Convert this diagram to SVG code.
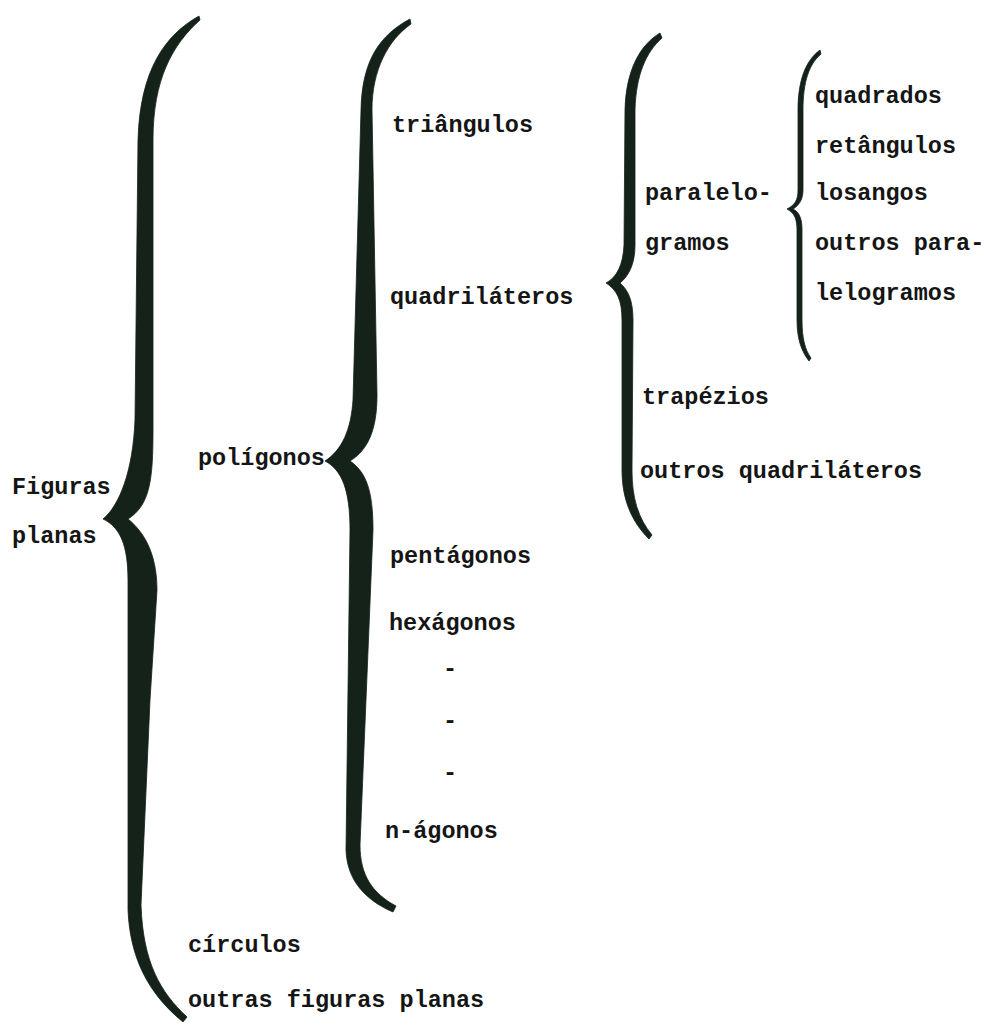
<svg xmlns="http://www.w3.org/2000/svg" width="984" height="1025" viewBox="0 0 984 1025">
<style>
text{font-family:"Liberation Mono","Courier New",monospace;font-weight:bold;font-size:23.5px;fill:#151515}
.brace{fill:#14221a;stroke:#14221a;stroke-width:0.8;stroke-linejoin:round}
</style>
<rect width="984" height="1025" fill="#ffffff"/>
<g id="connectors">
<path class="brace" d="M199,16 C165,35 140,70 138,140 L135,420 C133,470 120,505 103,519 C120,527 128,545 128,580 L128,910 C130,960 150,995 183,1022 L187,1017 C160,992 143,962 141,905 L150,700 L157,590 C157,560 148,535 128,519 C150,505 153,480 153,430 L153,140 C153,80 172,45 200,20 Z"/>
<path class="brace" d="M410,19 C380,35 362,60 361,110 L353,400 C351,430 342,450 325,461 C342,470 350,490 350,530 L346,850 C347,880 365,900 393,912 L396,906 C372,893 360,875 360,845 L373,530 C373,490 366,472 350,461 C368,450 377,430 377,395 L372,110 C372,70 388,40 411,24 Z"/>
<path class="brace" d="M660,33 C640,45 626,70 625,110 L624,245 C623,265 617,277 606,283 C617,290 622,300 622,320 L622,470 C622,500 632,522 649,539 L652,535 C638,518 632,498 632,470 L633,320 C633,300 628,290 620,283 C630,275 635,262 635,245 L635,110 C636,75 646,52 662,38 Z"/>
<path class="brace" d="M820,50 C806,60 798,80 798,110 L798,190 C798,200 795,205 787,209 C795,213 797,220 797,230 L797,320 C797,340 802,352 809,361 L811,358 C805,350 802,338 802,320 L802,230 C802,218 799,212 793,209 C800,205 803,198 803,190 L803,110 C803,82 809,64 821,54 Z"/>
</g>
<g id="figuras-planas"><text x="12" y="494">Figuras</text><text x="12" y="543">planas</text></g>
<g id="poligonos"><text x="198" y="465">polígonos</text></g>
<g id="circulos"><text x="188" y="952">círculos</text></g>
<g id="outras-figuras-planas"><text x="188" y="1007">outras figuras planas</text></g>
<g id="triangulos"><text x="392" y="132">triângulos</text></g>
<g id="quadrilateros"><text x="390" y="304">quadriláteros</text></g>
<g id="pentagonos"><text x="390" y="563">pentágonos</text></g>
<g id="hexagonos"><text x="389" y="630">hexágonos</text></g>
<g id="ellipsis"><text x="443" y="676">-</text><text x="443" y="728">-</text><text x="443" y="780">-</text></g>
<g id="n-agonos"><text x="385" y="838">n-ágonos</text></g>
<g id="paralelogramos"><text x="645" y="200">paralelo-</text><text x="645" y="250">gramos</text></g>
<g id="trapezios"><text x="642" y="404">trapézios</text></g>
<g id="outros-quadrilateros"><text x="640" y="478">outros quadriláteros</text></g>
<g id="quadrados"><text x="815" y="103">quadrados</text></g>
<g id="retangulos"><text x="815" y="153">retângulos</text></g>
<g id="losangos"><text x="815" y="200">losangos</text></g>
<g id="outros-paralelogramos"><text x="815" y="250">outros para-</text><text x="815" y="300">lelogramos</text></g>
</svg>
